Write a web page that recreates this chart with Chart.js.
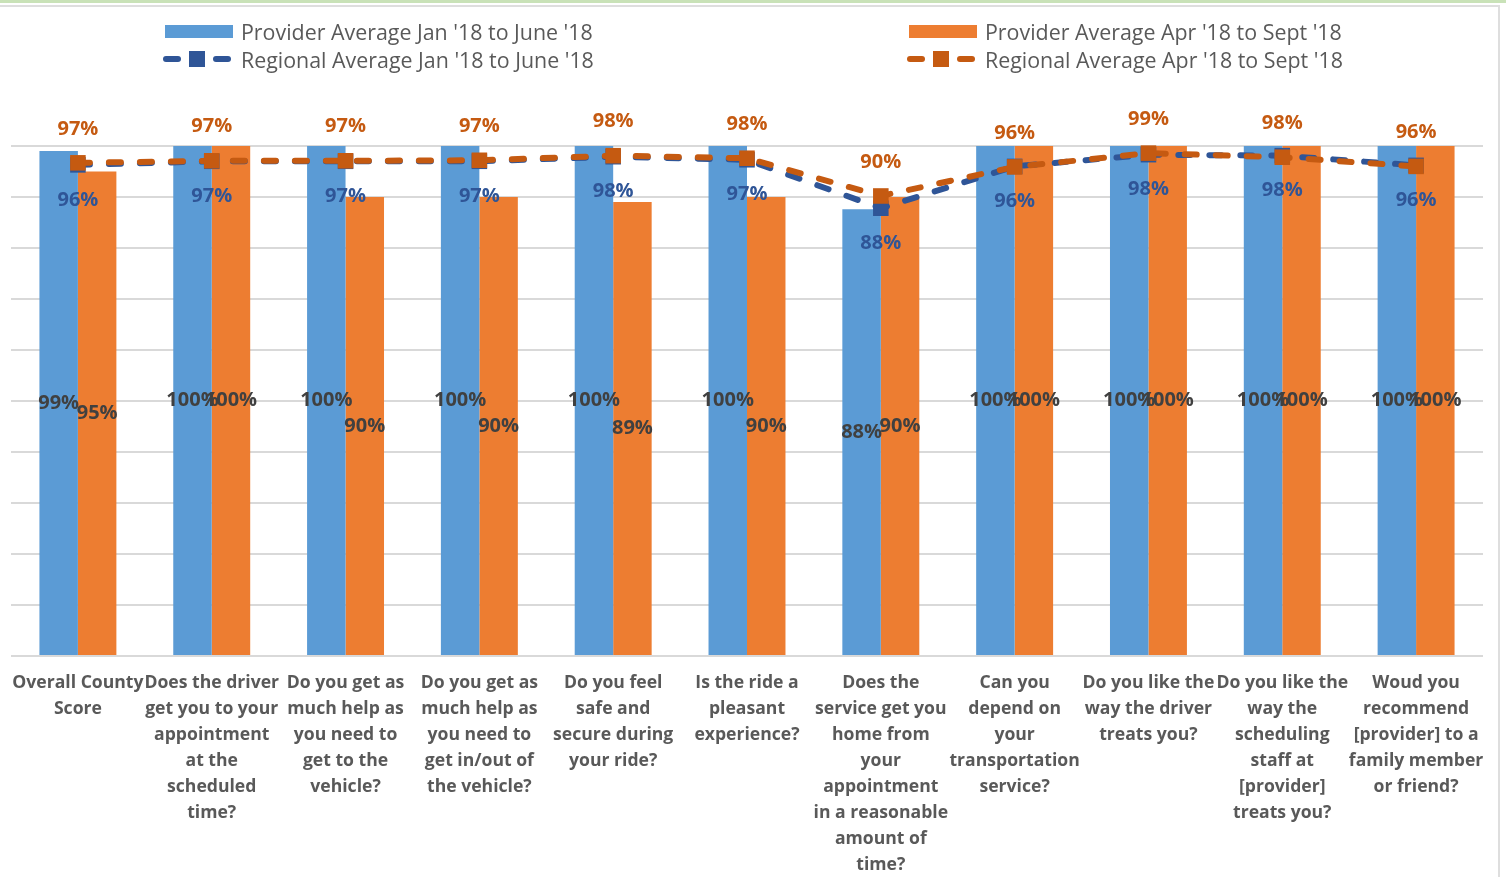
<!DOCTYPE html>
<html>
<head>
<meta charset="utf-8">
<script src="https://cdn.jsdelivr.net/npm/chart.js@4.4.1/dist/chart.umd.min.js"></script>
<style>
  body { margin: 0; background: #fff; }
  #wrap { position: relative; width: 1506px; height: 877px; overflow: hidden; font-family: "Open Sans", sans-serif; }
  #chart { position: absolute; left: 0; top: 0; }
  .topGreen { position: absolute; left: 0; top: 0; width: 1506px; height: 3px; background: #c9e2b8; }
  .topGray { position: absolute; left: 0; top: 5px; width: 1500px; height: 2px; background: #dedede; }
  .rightGray { position: absolute; left: 1498px; top: 5px; width: 2px; height: 872px; background: #dedede; }
  .lg { position: absolute; height: 28px; display: flex; align-items: center; font-size: 21.4px; color: #595959; white-space: nowrap; }
  .box { width: 68px; height: 13px; margin-left: 2px; margin-right: 8px; }
  .lineIcon { position: relative; width: 70px; height: 28px; margin-right: 8px; }
  .lineIcon .d { position: absolute; top: 11px; width: 18px; height: 6px; border-radius: 3px; }
  .lineIcon .s { position: absolute; top: 6px; left: 26px; width: 16px; height: 16px; }
</style>
</head>
<body>
<div id="wrap">
  <div class="topGreen"></div>
  <div class="topGray"></div>
  <div class="rightGray"></div>
  <canvas id="chart" width="1506" height="877"></canvas>
  <div class="lg" style="left:163px; top:17px;"><span class="box" style="background:#5b9bd5"></span>Provider Average Jan '18 to June '18</div>
  <div class="lg" style="left:163px; top:45px;"><span class="lineIcon"><span class="d" style="left:0;background:#2f5597"></span><span class="s" style="background:#2f5597"></span><span class="d" style="left:50px;background:#2f5597"></span></span>Regional Average Jan '18 to June '18</div>
  <div class="lg" style="left:907px; top:17px;"><span class="box" style="background:#ed7d31"></span>Provider Average Apr '18 to Sept '18</div>
  <div class="lg" style="left:907px; top:45px;"><span class="lineIcon"><span class="d" style="left:0;background:#c55a11"></span><span class="s" style="background:#c55a11"></span><span class="d" style="left:50px;background:#c55a11"></span></span>Regional Average Apr '18 to Sept '18</div>
</div>
<script>
// survey questions (one array entry per wrapped line)
const categories = [
  ["Overall County", "Score"],
  ["Does the driver", "get you to your", "appointment", "at the", "scheduled", "time?"],
  ["Do you get as", "much help as", "you need to", "get to the", "vehicle?"],
  ["Do you get as", "much help as", "you need to", "get in/out of", "the vehicle?"],
  ["Do you feel", "safe and", "secure during", "your ride?"],
  ["Is the ride a", "pleasant", "experience?"],
  ["Does the", "service get you", "home from", "your", "appointment", "in a reasonable", "amount of", "time?"],
  ["Can you", "depend on", "your", "transportation", "service?"],
  ["Do you like the", "way the driver", "treats you?"],
  ["Do you like the", "way the", "scheduling", "staff at", "[provider]", "treats you?"],
  ["Woud you", "recommend", "[provider] to a", "family member", "or friend?"]
];

const providerJan = [99, 100, 100, 100, 100, 100, 87.6, 100, 100, 100, 100];
const providerApr = [95, 100, 90, 90, 89, 90, 90, 100, 100, 100, 100];
const regionalJan = [96.3, 97.0, 97.0, 97.0, 97.9, 97.3, 87.8, 96.0, 98.3, 98.1, 96.2];
const regionalApr = [96.7, 97.1, 97.1, 97.2, 98.1, 97.6, 90.2, 95.9, 98.6, 97.8, 96.0];

function pct(v) { return Math.round(v) + '%'; }

// draws the value labels like the Excel data labels
const valueLabels = {
  id: 'valueLabels',
  afterDatasetsDraw(chart) {
    const ctx = chart.ctx;
    ctx.save();
    ctx.font = 'bold 20px "Open Sans"';
    ctx.textAlign = 'center';
    ctx.textBaseline = 'middle';
    chart.data.datasets.forEach((ds, i) => {
      const meta = chart.getDatasetMeta(i);
      if (meta.type !== 'bar') return;
      ctx.fillStyle = '#404040';
      meta.data.forEach((el, j) => {
        ctx.fillText(pct(ds.data[j]), el.x, (el.y + el.base) / 2);
      });
    });
    for (let i = chart.data.datasets.length - 1; i >= 0; i--) {
      const ds = chart.data.datasets[i];
      const meta = chart.getDatasetMeta(i);
      if (meta.type !== 'line') continue;
      ctx.fillStyle = ds.borderColor;
      meta.data.forEach((el, j) => {
        ctx.fillText(pct(ds.data[j]), el.x, el.y + ds.labelOffset);
      });
    }
    ctx.restore();
  }
};

new Chart(document.getElementById("chart"), {
  type: 'bar',
  data: {
    labels: categories,
    datasets: [
      {
        type: 'line',
        label: "Regional Average Apr '18 to Sept '18",
        data: regionalApr,
        order: 0,
        borderColor: '#c55a11',
        backgroundColor: '#c55a11',
        borderWidth: 6,
        borderDash: [12, 19],
        borderCapStyle: 'round',
        pointStyle: 'rect',
        pointRadius: 11,
        pointBorderWidth: 0,
        tension: 0,
        clip: false,
        labelOffset: -34
      }, {
        type: 'line',
        label: "Regional Average Jan '18 to June '18",
        data: regionalJan,
        order: 1,
        borderColor: '#2f5597',
        backgroundColor: '#2f5597',
        borderWidth: 6,
        borderDash: [12, 19],
        borderCapStyle: 'round',
        pointStyle: 'rect',
        pointRadius: 11,
        pointBorderWidth: 0,
        tension: 0,
        clip: false,
        labelOffset: 35
      }, {
        label: "Provider Average Jan '18 to June '18",
        data: providerJan,
        order: 2,
        backgroundColor: '#5b9bd5',
        categoryPercentage: 0.575,
        barPercentage: 1
      }, {
        label: "Provider Average Apr '18 to Sept '18",
        data: providerApr,
        order: 3,
        backgroundColor: '#ed7d31',
        categoryPercentage: 0.575,
        barPercentage: 1
      }
    ]
  },
  options: {
    responsive: false,
    animation: false,
    events: [],
    layout: { padding: { top: 146, left: 8, right: 23, bottom: 0 } },
    plugins: {
      legend: { display: false },
      tooltip: { enabled: false }
    },
    scales: {
      x: {
        grid: { display: false },
        border: { display: false },
        ticks: {
          color: '#595959',
          font: { family: '"Open Sans"', size: 17.6, weight: 'bold', lineHeight: 26 / 17.6 },
          maxRotation: 0,
          autoSkip: false,
          padding: 6
        },
        afterFit(axis) {
          axis.height = 221;
          axis.paddingLeft = 0;
          axis.paddingRight = 0;
        }
      },
      y: {
        min: 0,
        max: 100,
        ticks: { display: false, stepSize: 10 },
        grid: { color: '#d9d9d9', lineWidth: 2, drawTicks: false },
        border: { display: false },
        afterFit(axis) { axis.width = 0; }
      }
    }
  },
  plugins: [valueLabels]
});
</script>
</body>
</html>
